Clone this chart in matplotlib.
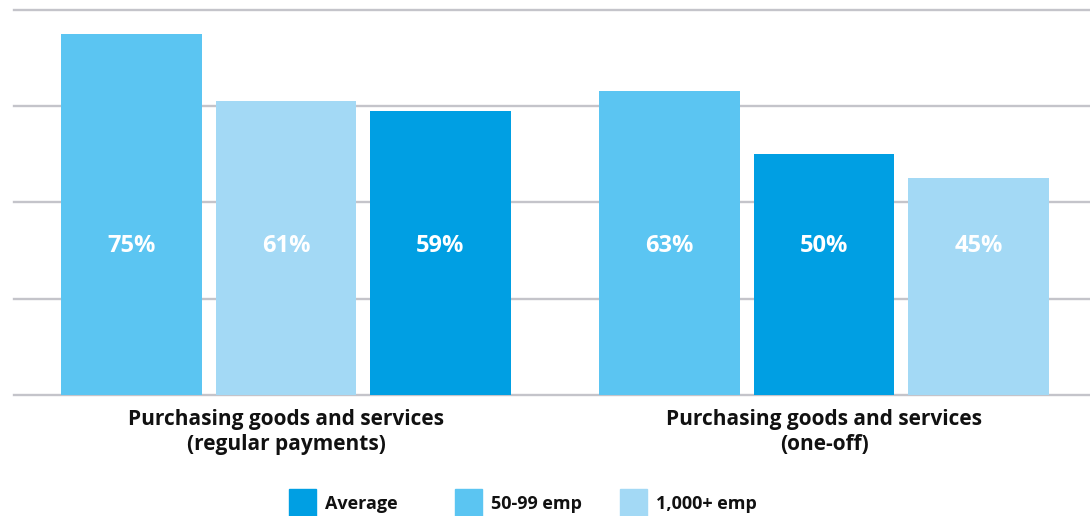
import numpy as np
import matplotlib
matplotlib.use("Agg")
import matplotlib.pyplot as plt
from matplotlib.patches import Rectangle

plt.rcParams["font.family"] = ["Open Sans", "DejaVu Sans"]

# Data
categories = ["Purchasing goods and services\n(regular payments)",
              "Purchasing goods and services\n(one-off)"]
series = ["Average", "50-99 emp", "1,000+ emp"]
average = [59, 50]
emp_50_99 = [75, 63]
emp_1000 = [61, 45]
colors = {"Average": "#009FE3", "50-99 emp": "#5BC5F2", "1,000+ emp": "#A3D9F5"}

values = {"Average": average, "50-99 emp": emp_50_99, "1,000+ emp": emp_1000}
gridticks = [0, 20, 40, 60, 80]

fig = plt.figure(figsize=(10.9, 5.16), dpi=100)
ax = fig.add_axes([14 / 1090, 121 / 516, 1 - 14 / 1090, 390.3 / 516])

pitch = 0.287
width = 0.262

# bars are ordered tallest first within each group
for g, cat in enumerate(categories):
    vals = [values[s][g] for s in series]
    order = np.argsort(vals)[::-1]
    for pos, idx in enumerate(order):
        name = series[idx]
        x = g + (pos - 1) * pitch
        ax.bar(x, vals[idx], width=width, color=colors[name], zorder=3)
        ax.text(x, 30.9, f"{vals[idx]}%", ha="center", va="center",
                color="white", fontsize=17, fontweight="bold", zorder=4)

for t in gridticks:
    ax.axhline(t, color="#C4C4CA", lw=1.7, zorder=1, clip_on=False)

ax.set_xlim(-0.5056, 1.4944)
ax.set_ylim(0, 81)
ax.set_xticks([0, 1])
ax.set_xticklabels(categories, fontsize=15, fontweight="bold",
                   color="#111111", linespacing=1.25)
ax.tick_params(axis="x", length=0, pad=10)
ax.set_yticks([])
for sp in ax.spines.values():
    sp.set_visible(False)

# legend with fixed column widths
legend_x = [289, 455, 620]
for name, lx in zip(series, legend_x):
    fig.patches.append(Rectangle((lx / 1090, 0), 27 / 1090, 27 / 516,
                                 transform=fig.transFigure,
                                 color=colors[name]))
    fig.text((lx + 36) / 1090, 12 / 516, name, fontsize=13,
             fontweight="bold", color="#111111", va="center")

fig.savefig("out.png", dpi=100)
